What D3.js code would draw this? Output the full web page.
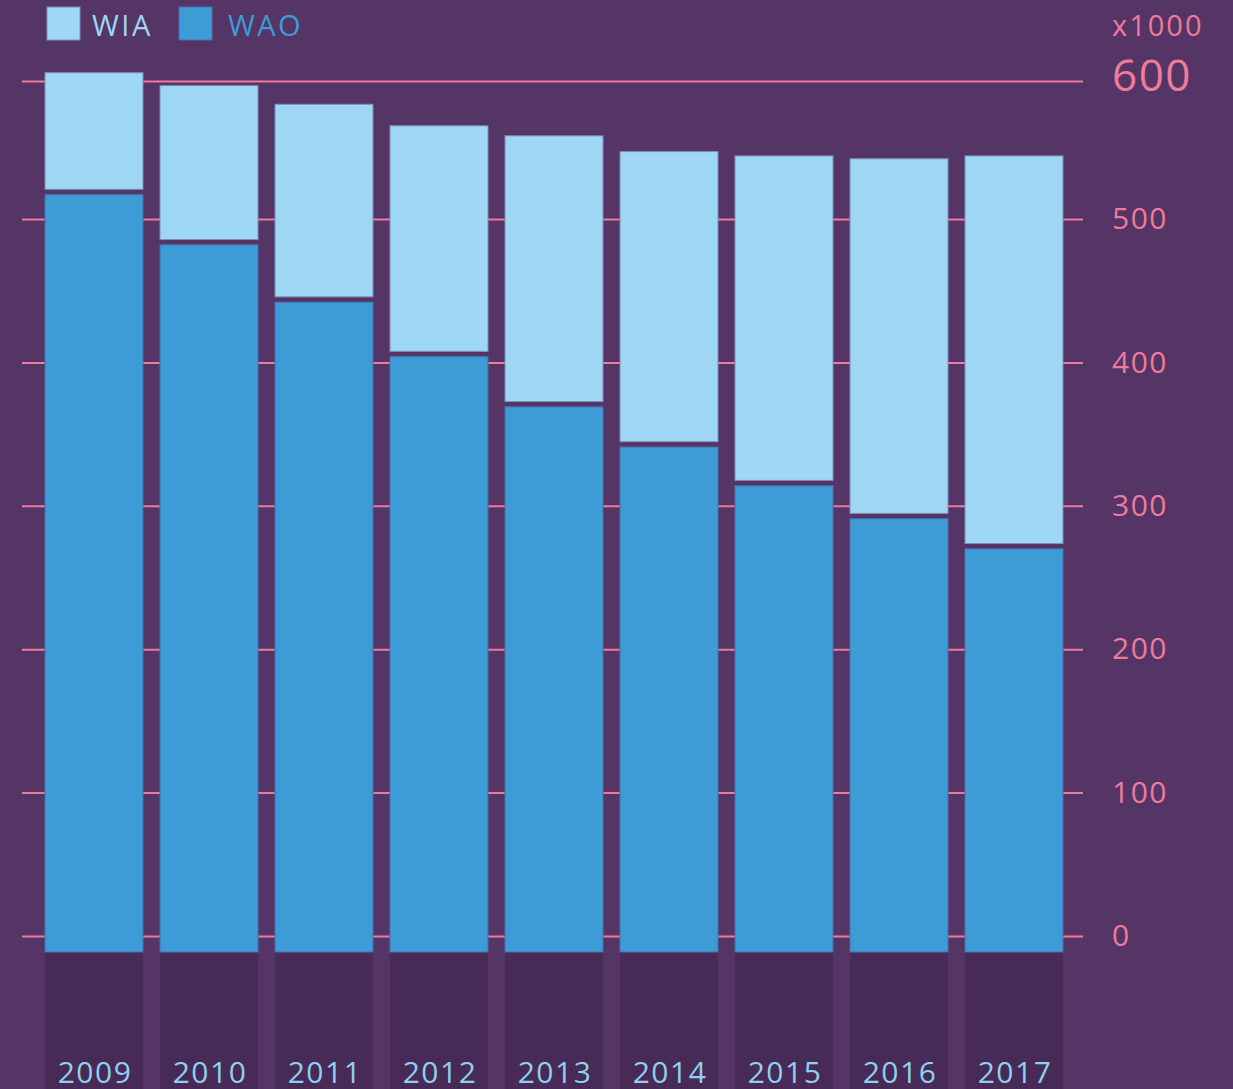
<!DOCTYPE html>
<html>
<head>
<meta charset="utf-8">
<script src="https://cdn.jsdelivr.net/npm/d3@7"></script>
<style>
  html, body { margin: 0; padding: 0; background: #553466; }
  svg { display: block; font-family: "Open Sans", sans-serif; }
</style>
</head>
<body>
<script>
const years = ["2009","2010","2011","2012","2013","2014","2015","2016","2017"];
const wao = [517, 482, 442, 404, 369, 341, 314, 291, 270];
const wia = [85, 111, 138, 161, 189, 206, 230, 251, 274];
const yTicks = [0, 100, 200, 300, 400, 500, 600];
const seriesNames = ["WIA", "WAO"];

const W = 1233, H = 1089;
const colBg = "#553466", colStrip = "#472A56";
const colWAO = "#3D9BD6", colWIA = "#9DD7F3";
const colPink = "#EE7B9A";

const svg = d3.select("body").append("svg").attr("width", W).attr("height", H);
svg.append("rect").attr("width", W).attr("height", H).attr("fill", colBg);

const x = d3.scaleBand().domain(years).range([45, 1063]).paddingInner(17/115).paddingOuter(0);
const y = d3.scaleLinear().domain([0, 600]).range([936, 75.6]);
const baseDrop = 16;   // bars sink below the zero line
const gap = 5.3;       // gap between stacked segments

// dark strip below bars
svg.append("g").selectAll("rect").data(years).join("rect")
  .attr("x", d => x(d)).attr("width", x.bandwidth())
  .attr("y", y(0) + baseDrop).attr("height", H - (y(0) + baseDrop))
  .attr("fill", colStrip);

// gridlines / right axis
const axis = d3.axisRight(y).tickValues(yTicks).tickSize(-(1083 - 22)).tickPadding(29).tickFormat(d3.format("d"));
const ag = svg.append("g").attr("transform", "translate(1083,0)").call(axis);
ag.select(".domain").remove();
ag.selectAll(".tick line").attr("stroke", colPink).attr("stroke-width", 2);
ag.selectAll(".tick text").attr("fill", colPink).attr("font-size", 30)
  .attr("font-family", "Open Sans, sans-serif").attr("letter-spacing", "1.5px");
ag.selectAll(".tick").filter(d => d === 600).select("line").attr("transform", "translate(0,5.4)");
ag.selectAll(".tick").filter(d => d === 600).select("text").attr("font-size", 44)
  .attr("dy", "0.34em").attr("letter-spacing", "1.5px");

// unit label
svg.append("text").attr("x", 1112).attr("y", 36).attr("fill", colPink)
  .attr("font-size", 29).attr("letter-spacing", "2px").text("x1000");

// bars
const bars = svg.append("g");
years.forEach((yr, i) => {
  bars.append("rect")
    .attr("x", x(yr)).attr("width", x.bandwidth())
    .attr("y", y(wao[i])).attr("height", y(0) + baseDrop - y(wao[i]))
    .attr("fill", colWAO).attr("stroke", "#4A6FAE").attr("stroke-width", 1);
  const top = y(wao[i] + wia[i]);
  bars.append("rect")
    .attr("x", x(yr)).attr("width", x.bandwidth())
    .attr("y", top).attr("height", y(wao[i]) - gap - top)
    .attr("fill", colWIA).attr("stroke", "#7F8DBC").attr("stroke-width", 1);
});

// year labels
svg.append("g").selectAll("text").data(years).join("text")
  .attr("x", d => x(d) + x.bandwidth() / 2 + 1).attr("y", 1083)
  .attr("text-anchor", "middle").attr("fill", "#8ED0EE").attr("font-size", 30)
  .attr("letter-spacing", "1.5px")
  .text(d => d);

// legend
const legCols = [colWIA, colWAO];
const legX = [47, 179];
const legTextX = [92, 228];
seriesNames.forEach((n, i) => {
  svg.append("rect").attr("x", legX[i]).attr("y", 7).attr("width", 33).attr("height", 33)
    .attr("fill", legCols[i]).attr("stroke", i === 0 ? "#7F8DBC" : "#4A6FAE").attr("stroke-width", 1);
  svg.append("text").attr("x", legTextX[i]).attr("y", 36).attr("fill", legCols[i])
    .attr("font-size", 29).attr("letter-spacing", "2.5px").text(n);
});
</script>
</body>
</html>
